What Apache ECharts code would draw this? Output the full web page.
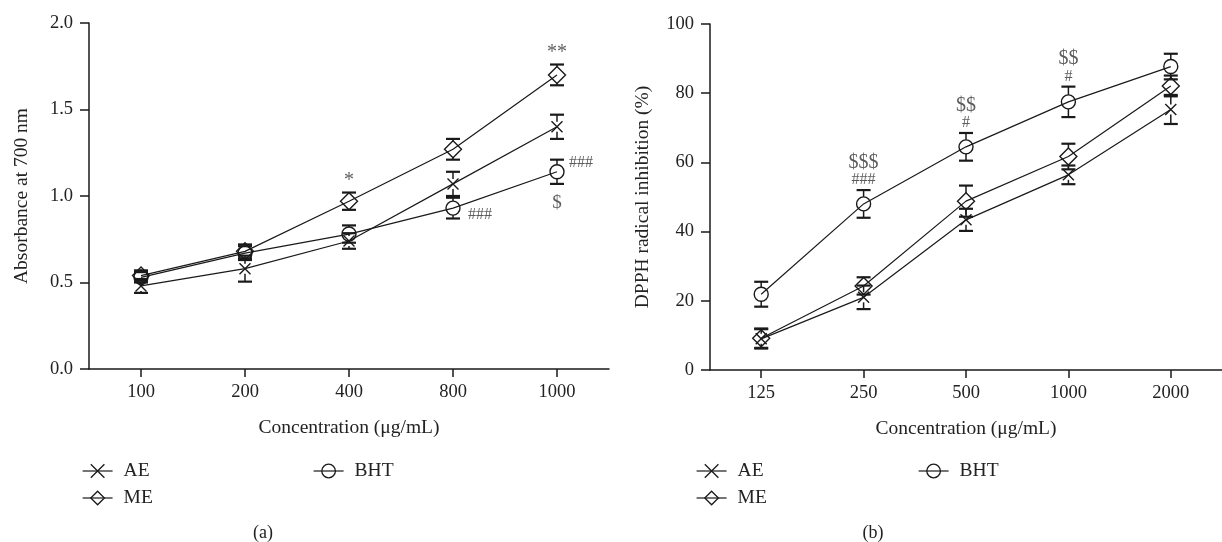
<!DOCTYPE html>
<html>
<head>
<meta charset="utf-8">
<title>Reducing power and DPPH</title>
<script src="https://cdn.jsdelivr.net/npm/echarts@6/dist/echarts.min.js"></script>
<style>
html,body{margin:0;padding:0;background:#fff;}
#chart{width:1222px;height:542px;}
</style>
</head>
<body>
<div id="chart"></div>
<script>
// (a) reducing power
var concA = ['100', '200', '400', '800', '1000'];
var aeA = [0.48, 0.58, 0.74, 1.07, 1.40];
var aeAErr = [0.04, 0.075, 0.045, 0.07, 0.07];
var meA = [0.54, 0.68, 0.97, 1.27, 1.70];
var meAErr = [0.03, 0.04, 0.05, 0.06, 0.06];
var bhtA = [0.53, 0.67, 0.78, 0.93, 1.14];
var bhtAErr = [0.03, 0.04, 0.05, 0.06, 0.07];
var ticksA = [0, 0.5, 1.0, 1.5, 2.0];

// (b) DPPH radical inhibition
var concB = ['125', '250', '500', '1000', '2000'];
var aeB = [9.0, 21.0, 43.4, 56.4, 75.3];
var aeBErr = [2.8, 3.4, 3.2, 2.7, 4.2];
var meB = [9.2, 24.3, 48.8, 61.7, 82.1];
var meBErr = [2.8, 2.5, 4.5, 3.7, 3.0];
var bhtB = [21.9, 48.0, 64.5, 77.5, 87.7];
var bhtBErr = [3.6, 4.0, 4.0, 4.4, 3.7];
var ticksB = [0, 20, 40, 60, 80, 100];

// significance marks: [series, category index, text, side]
var marksA = [['ME', 2, '*', 'above'], ['ME', 4, '**', 'above'],
              ['BHT', 3, '###', 'rightDown'], ['BHT', 4, '###', 'rightUp'], ['BHT', 4, '$', 'below']];
var marksB = [['BHT', 1, '$$$|###', 'above'], ['BHT', 2, '$$|#', 'above'], ['BHT', 3, '$$|#', 'above']];

var FONT = "'Liberation Serif', 'DejaVu Serif', serif";
var INK = '#1a1a1a';

var symCross = 'path://M0,0L10,10M0,10L10,0';

function lineSeries(name, vals, g, sym, size) {
    return {
        type: 'line', name: name, xAxisIndex: g, yAxisIndex: g, data: vals,
        symbol: sym, symbolSize: size, z: 3,
        lineStyle: {color: INK, width: 1.2},
        itemStyle: {color: 'rgba(0,0,0,0)', borderColor: INK, borderWidth: 1.4}
    };
}

function errSeries(name, vals, errs, g, gap) {
    var d = vals.map(function (v, i) { return [i, v, v - errs[i], v + errs[i]]; });
    return {
        type: 'custom', name: name + ' err', xAxisIndex: g, yAxisIndex: g, silent: true, z: 4,
        renderItem: function (params, api) {
            var c = api.coord([api.value(0), api.value(1)]);
            var lo = api.coord([api.value(0), api.value(2)]);
            var hi = api.coord([api.value(0), api.value(3)]);
            var w = 7;
            var kids = [
                {type: 'line', shape: {x1: lo[0] - w, y1: lo[1], x2: lo[0] + w, y2: lo[1]}, style: {stroke: INK, lineWidth: 2.2}},
                {type: 'line', shape: {x1: hi[0] - w, y1: hi[1], x2: hi[0] + w, y2: hi[1]}, style: {stroke: INK, lineWidth: 2.2}}
            ];
            if (hi[1] < c[1] - gap) kids.push({type: 'line', shape: {x1: c[0], y1: c[1] - gap, x2: hi[0], y2: hi[1]}, style: {stroke: INK, lineWidth: 1.5}});
            if (lo[1] > c[1] + gap) kids.push({type: 'line', shape: {x1: c[0], y1: c[1] + gap, x2: lo[0], y2: lo[1]}, style: {stroke: INK, lineWidth: 1.5}});
            return {type: 'group', children: kids};
        },
        data: d
    };
}

function markSeries(marks, lookup, g) {
    var data = marks.map(function (m) {
        var s = lookup[m[0]];
        var i = m[1];
        var v = s[0][i], e = s[1][i];
        var parts = m[2].split('|');
        var lbl = {show: true, fontFamily: FONT, color: '#333', fontSize: 16};
        var y = v;
        if (m[3] === 'above') {
            y = v + e;
            lbl.position = 'top';
            lbl.distance = 2;
            if (parts.length > 1) {
                lbl.formatter = '{d|' + parts[0] + '}\n{h|' + parts[1] + '}';
                lbl.rich = {d: {fontFamily: FONT, fontSize: 20, color: '#333', lineHeight: 19},
                            h: {fontFamily: FONT, fontSize: 16, color: '#333', lineHeight: 16}};
            } else {
                lbl.formatter = parts[0];
                lbl.fontSize = 20;
            }
        } else if (m[3] === 'below') {
            y = v - e;
            lbl.position = 'bottom';
            lbl.distance = 10;
            lbl.formatter = parts[0];
            lbl.fontSize = 19;
        } else {
            lbl.position = 'right';
            lbl.distance = m[3] === 'rightUp' ? 12 : 15;
            lbl.offset = [0, m[3] === 'rightUp' ? -9 : 7];
            lbl.formatter = parts[0];
            lbl.fontSize = 16;
        }
        return {value: [i, y], label: lbl};
    });
    return {type: 'scatter', xAxisIndex: g, yAxisIndex: g, symbolSize: 0, silent: true, z: 5, data: data};
}

function xAxisOf(cats, g) {
    return {
        type: 'category', gridIndex: g, data: cats, boundaryGap: true,
        name: 'Concentration (\u03bcg/mL)', nameLocation: 'middle', nameGap: 49,
        nameTextStyle: {fontFamily: FONT, fontSize: 19.5, color: '#222'},
        axisLine: {show: true, lineStyle: {color: INK, width: 1.5}},
        axisTick: {show: true, alignWithLabel: true, length: 8, lineStyle: {color: INK, width: 1.5}},
        axisLabel: {fontFamily: FONT, fontSize: 18.5, color: '#222', margin: 14},
        splitLine: {show: false}
    };
}

function yAxisOf(ticks, g, name, dec) {
    return {
        type: 'value', gridIndex: g, min: ticks[0], max: ticks[ticks.length - 1], interval: ticks[1] - ticks[0],
        name: name, nameLocation: 'middle', nameGap: 57, nameRotate: 90,
        nameTextStyle: {fontFamily: FONT, fontSize: 19.5, color: '#222'},
        axisLine: {show: true, lineStyle: {color: INK, width: 1.5}},
        axisTick: {show: true, length: 9, lineStyle: {color: INK, width: 1.5}},
        axisLabel: {fontFamily: FONT, fontSize: 18.5, color: '#222', margin: 16,
            formatter: function (v) { return v.toFixed(dec); }},
        splitLine: {show: false}
    };
}

function legendOf(names, left) {
    return {
        data: names, left: left, top: 456, orient: 'vertical', itemWidth: 30, itemHeight: 17, itemGap: 7,
        lineStyle: {width: 1.2},
        itemStyle: {borderWidth: 1.3},
        textStyle: {fontFamily: FONT, fontSize: 19.5, color: '#222', padding: [0, 0, 0, 6]},
        selectedMode: false
    };
}

var lookA = {AE: [aeA, aeAErr], ME: [meA, meAErr], BHT: [bhtA, bhtAErr]};
var lookB = {AE: [aeB, aeBErr], ME: [meB, meBErr], BHT: [bhtB, bhtBErr]};

var option = {
    animation: false,
    backgroundColor: '#fff',
    grid: [
        {left: 89, top: 23, width: 520, height: 346},
        {left: 710, top: 24, width: 520, height: 346}
    ],
    xAxis: [xAxisOf(concA, 0), xAxisOf(concB, 1)],
    yAxis: [yAxisOf(ticksA, 0, 'Absorbance at 700 nm', 1), yAxisOf(ticksB, 1, 'DPPH radical inhibition (%)', 0)],
    legend: [
        legendOf(['AE', 'ME'], 77),
        legendOf(['BHT'], 308),
        legendOf(['AE', 'ME'], 691),
        legendOf(['BHT'], 913)
    ],
    graphic: [
        {type: 'text', x: 263, y: 533, style: {text: '(a)', font: '18px ' + FONT, fill: '#222', textAlign: 'center', textVerticalAlign: 'middle'}},
        {type: 'text', x: 873, y: 533, style: {text: '(b)', font: '18px ' + FONT, fill: '#222', textAlign: 'center', textVerticalAlign: 'middle'}}
    ],
    series: [
        lineSeries('AE', aeA, 0, symCross, 11),
        lineSeries('ME', meA, 0, 'diamond', 17),
        lineSeries('BHT', bhtA, 0, 'circle', 14),
        errSeries('AE', aeA, aeAErr, 0, 5),
        errSeries('ME', meA, meAErr, 0, 8),
        errSeries('BHT', bhtA, bhtAErr, 0, 7),
        markSeries(marksA, lookA, 0),
        lineSeries('AE', aeB, 1, symCross, 11),
        lineSeries('ME', meB, 1, 'diamond', 17),
        lineSeries('BHT', bhtB, 1, 'circle', 14),
        errSeries('AE', aeB, aeBErr, 1, 5),
        errSeries('ME', meB, meBErr, 1, 8),
        errSeries('BHT', bhtB, bhtBErr, 1, 7),
        markSeries(marksB, lookB, 1)
    ]
};

var myChart = echarts.init(document.getElementById('chart'));
myChart.setOption(option);
</script>
</body>
</html>
